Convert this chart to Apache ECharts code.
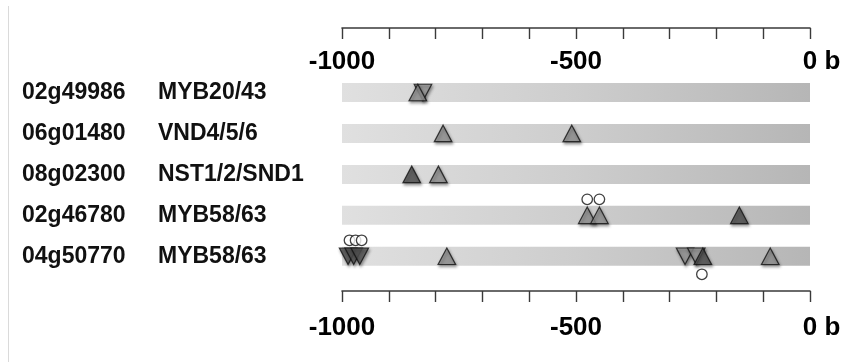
<!DOCTYPE html>
<html>
<head>
<meta charset="utf-8">
<script src="https://cdn.jsdelivr.net/npm/echarts@6/dist/echarts.min.js"></script>
<style>
html,body{margin:0;padding:0;background:#fff;}
#c{width:858px;height:362px;}
</style>
</head>
<body>
<div id="c"></div>
<script>
// ---- data ----
const geneIds = ['02g49986', '06g01480', '08g02300', '02g46780', '04g50770'];
const geneNames = ['MYB20/43', 'VND4/5/6', 'NST1/2/SND1', 'MYB58/63', 'MYB58/63'];
const promoterStart = [-1000, -1000, -1000, -1000, -1000];
const tickLabels = { '-1000': '-1000', '-500': '-500', '0': '0 b' };

// [position (bp), row index]
const upMedium = [[-838, 0], [-784, 1], [-509, 1], [-794, 2], [-476, 3], [-450, 3], [-776, 4], [-85, 4]];
const upDark = [[-851, 2], [-151, 3], [-229, 4]];
const downMedium = [[-827, 0], [-267, 4], [-243, 4]];
const downDark = [[-987, 4], [-975, 4], [-962, 4]];
const circlesAbove = [[-476, 3], [-450, 3], [-984, 4], [-971, 4], [-958, 4]];
const circlesBelow = [[-231, 4]];

// ---- chart ----
const FONT = "'Liberation Sans', Arial, Helvetica, sans-serif";
const chart = echarts.init(document.getElementById('c'), null, { renderer: 'canvas' });

const shadow = { shadowBlur: 3, shadowOffsetY: 2, shadowOffsetX: 1, shadowColor: 'rgba(0,0,0,0.45)' };
function triSeries(data, color, down) {
  return {
    type: 'scatter', data: data, xAxisIndex: 0, yAxisIndex: 0,
    symbol: 'triangle', symbolSize: [17.5, 16.5], symbolRotate: down ? 180 : 0,
    itemStyle: Object.assign({ color: color, borderColor: '#111', borderWidth: 1.2 }, shadow),
    emphasis: { disabled: true }, z: 3
  };
}
function circSeries(data, offsetY) {
  return {
    type: 'scatter', data: data, xAxisIndex: 0, yAxisIndex: 0,
    symbol: 'circle', symbolSize: 10.5, symbolOffset: [0, offsetY],
    itemStyle: { color: '#fff', borderColor: '#111', borderWidth: 1.3 },
    emphasis: { disabled: true }, z: 4
  };
}
function fmt(v) {
  const t = tickLabels[String(v)];
  if (t === undefined) return '';
  if (v === 0) return '{z|' + t + '}';
  return t;
}
const axisCommon = {
  type: 'value', min: -1000, max: 0, interval: 100,
  splitLine: { show: false },
  axisLine: { show: true, lineStyle: { color: '#3a3a3a', width: 1.6 } },
  axisTick: { show: true, length: 11, lineStyle: { color: '#3a3a3a', width: 1.4 } },
  axisLabel: {
    show: true, formatter: fmt, color: '#000', fontFamily: FONT, fontWeight: 'bold', fontSize: 26,
    showMinLabel: true, showMaxLabel: true, hideOverlap: false,
    rich: { z: { fontFamily: FONT, fontWeight: 'bold', fontSize: 26, color: '#000', padding: [0, 0, 0, 23] } }
  }
};

const option = {
  backgroundColor: '#fff',
  animation: false,
  grid: { left: 342, right: 48, top: 72, bottom: 85.25, outerBoundsMode: 'none' },
  xAxis: [
    Object.assign({}, axisCommon, {
      position: 'top', offset: 44,
      axisTick: Object.assign({}, axisCommon.axisTick, { inside: true }),
      axisLabel: Object.assign({}, axisCommon.axisLabel, { inside: true, margin: 21 })
    }),
    Object.assign({}, axisCommon, {
      position: 'bottom', offset: 14.25,
      axisLabel: Object.assign({}, axisCommon.axisLabel, { margin: 24 })
    })
  ],
  yAxis: {
    type: 'category', data: geneIds, inverse: true,
    axisLine: { show: false }, axisTick: { show: false }, splitLine: { show: false },
    axisLabel: {
      align: 'left', margin: 320, interval: 0,
      formatter: function (v, i) { return '{a|' + geneIds[i] + '}{b|' + geneNames[i] + '}'; },
      rich: {
        a: { width: 136, fontFamily: FONT, fontWeight: 'bold', fontSize: 23, color: '#111' },
        b: { fontFamily: FONT, fontWeight: 'bold', fontSize: 23, color: '#111' }
      }
    }
  },
  graphic: [{
    type: 'line', shape: { x1: 8.5, y1: 6, x2: 8.5, y2: 362 },
    style: { stroke: '#dadada', lineWidth: 1 }, silent: true
  }],
  series: [
    {
      type: 'bar', data: promoterStart, xAxisIndex: 0, yAxisIndex: 0, barWidth: 19,
      itemStyle: {
        color: new echarts.graphic.LinearGradient(342, 0, 810, 0, [
          { offset: 0, color: '#e0e0e0' },
          { offset: 0.5, color: '#cdcdcd' },
          { offset: 1, color: '#b6b6b6' }
        ], true)
      },
      emphasis: { disabled: true }, z: 1
    },
    triSeries(downMedium, '#999999', true),
    triSeries(upMedium, '#999999', false),
    triSeries(upDark, '#555555', false),
    triSeries(downDark, '#555555', true),
    circSeries(circlesAbove, -16),
    circSeries(circlesBelow, 18)
  ]
};
chart.setOption(option);
</script>
</body>
</html>
